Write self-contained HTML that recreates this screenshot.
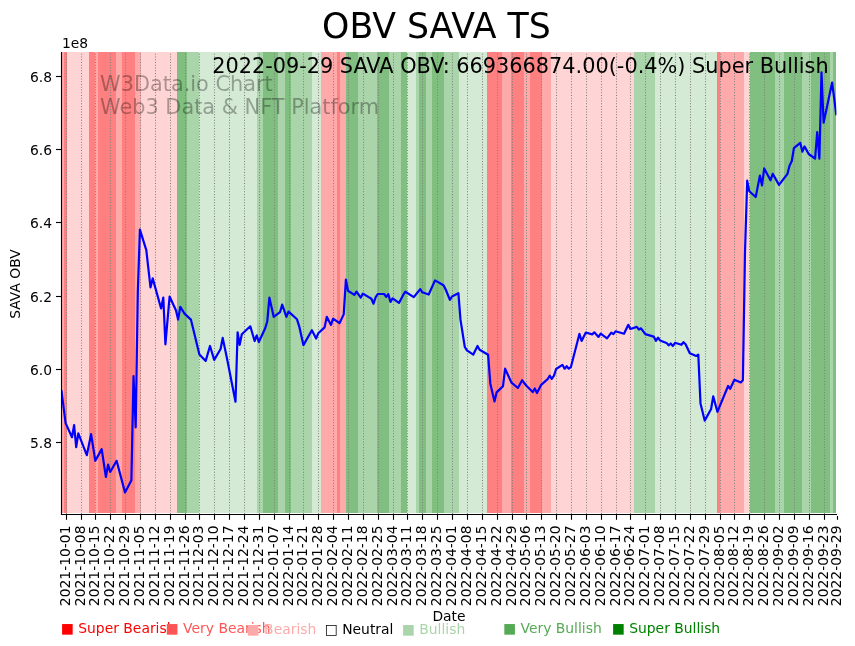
<!DOCTYPE html>
<html lang="en"><head><meta charset="utf-8"><title>OBV SAVA TS</title>
<style>html,body{margin:0;padding:0;background:#fff}svg{display:block}text{font-family:"DejaVu Sans","Liberation Sans",sans-serif}</style></head><body>
<svg width="855" height="646" viewBox="0 0 855 646">
<rect width="855" height="646" fill="#fff"/>
<g shape-rendering="crispEdges">
<rect x="61" y="52" width="3" height="461" fill="#ffaaaa"/>
<rect x="64" y="52" width="3" height="461" fill="#ff8080"/>
<rect x="67" y="52" width="22" height="461" fill="#ffd4d4"/>
<rect x="89" y="52" width="6" height="461" fill="#ff8080"/>
<rect x="95" y="52" width="3" height="461" fill="#ffaaaa"/>
<rect x="98" y="52" width="18" height="461" fill="#ff8080"/>
<rect x="116" y="52" width="6" height="461" fill="#ffaaaa"/>
<rect x="122" y="52" width="13" height="461" fill="#ff8080"/>
<rect x="135" y="52" width="6" height="461" fill="#ffaaaa"/>
<rect x="141" y="52" width="36" height="461" fill="#ffd4d4"/>
<rect x="177" y="52" width="10" height="461" fill="#80bf80"/>
<rect x="187" y="52" width="12" height="461" fill="#aad4aa"/>
<rect x="199" y="52" width="58" height="461" fill="#d4ead4"/>
<rect x="257" y="52" width="6" height="461" fill="#aad4aa"/>
<rect x="263" y="52" width="15" height="461" fill="#80bf80"/>
<rect x="278" y="52" width="7" height="461" fill="#aad4aa"/>
<rect x="285" y="52" width="6" height="461" fill="#80bf80"/>
<rect x="291" y="52" width="21" height="461" fill="#aad4aa"/>
<rect x="312" y="52" width="9" height="461" fill="#d4ead4"/>
<rect x="321" y="52" width="16" height="461" fill="#ffaaaa"/>
<rect x="337" y="52" width="3" height="461" fill="#ff8080"/>
<rect x="340" y="52" width="6" height="461" fill="#ffaaaa"/>
<rect x="346" y="52" width="12" height="461" fill="#80bf80"/>
<rect x="358" y="52" width="19" height="461" fill="#aad4aa"/>
<rect x="377" y="52" width="12" height="461" fill="#80bf80"/>
<rect x="389" y="52" width="12" height="461" fill="#aad4aa"/>
<rect x="401" y="52" width="6" height="461" fill="#80bf80"/>
<rect x="407" y="52" width="9" height="461" fill="#d4ead4"/>
<rect x="416" y="52" width="3" height="461" fill="#aad4aa"/>
<rect x="419" y="52" width="7" height="461" fill="#80bf80"/>
<rect x="426" y="52" width="6" height="461" fill="#aad4aa"/>
<rect x="432" y="52" width="12" height="461" fill="#80bf80"/>
<rect x="444" y="52" width="15" height="461" fill="#aad4aa"/>
<rect x="459" y="52" width="28" height="461" fill="#d4ead4"/>
<rect x="487" y="52" width="15" height="461" fill="#ff8080"/>
<rect x="502" y="52" width="9" height="461" fill="#ffaaaa"/>
<rect x="511" y="52" width="13" height="461" fill="#ff8080"/>
<rect x="524" y="52" width="6" height="461" fill="#ffaaaa"/>
<rect x="530" y="52" width="12" height="461" fill="#ff8080"/>
<rect x="542" y="52" width="9" height="461" fill="#ffaaaa"/>
<rect x="551" y="52" width="83" height="461" fill="#ffd4d4"/>
<rect x="634" y="52" width="21" height="461" fill="#aad4aa"/>
<rect x="655" y="52" width="62" height="461" fill="#d4ead4"/>
<rect x="717" y="52" width="3" height="461" fill="#ff8080"/>
<rect x="720" y="52" width="24" height="461" fill="#ffaaaa"/>
<rect x="744" y="52" width="6" height="461" fill="#ffd4d4"/>
<rect x="750" y="52" width="25" height="461" fill="#80bf80"/>
<rect x="775" y="52" width="9" height="461" fill="#aad4aa"/>
<rect x="784" y="52" width="18" height="461" fill="#80bf80"/>
<rect x="802" y="52" width="9" height="461" fill="#aad4aa"/>
<rect x="811" y="52" width="19" height="461" fill="#80bf80"/>
<rect x="830" y="52" width="3" height="461" fill="#aad4aa"/>
<rect x="833" y="52" width="3" height="461" fill="#80bf80"/>
</g>
<g stroke="#808080" stroke-width="1.04" stroke-dasharray="1.04 1.71" fill="none">
<line x1="66.5" y1="514.02" x2="66.5" y2="52"/>
<line x1="81.5" y1="514.02" x2="81.5" y2="52"/>
<line x1="95.5" y1="514.02" x2="95.5" y2="52"/>
<line x1="110.5" y1="514.02" x2="110.5" y2="52"/>
<line x1="125.5" y1="514.02" x2="125.5" y2="52"/>
<line x1="140.5" y1="514.02" x2="140.5" y2="52"/>
<line x1="155.5" y1="514.02" x2="155.5" y2="52"/>
<line x1="170.5" y1="514.02" x2="170.5" y2="52"/>
<line x1="185.5" y1="514.02" x2="185.5" y2="52"/>
<line x1="199.5" y1="514.02" x2="199.5" y2="52"/>
<line x1="214.5" y1="514.02" x2="214.5" y2="52"/>
<line x1="229.5" y1="514.02" x2="229.5" y2="52"/>
<line x1="244.5" y1="514.02" x2="244.5" y2="52"/>
<line x1="259.5" y1="514.02" x2="259.5" y2="52"/>
<line x1="274.5" y1="514.02" x2="274.5" y2="52"/>
<line x1="289.5" y1="514.02" x2="289.5" y2="52"/>
<line x1="303.5" y1="514.02" x2="303.5" y2="52"/>
<line x1="318.5" y1="514.02" x2="318.5" y2="52"/>
<line x1="333.5" y1="514.02" x2="333.5" y2="52"/>
<line x1="348.5" y1="514.02" x2="348.5" y2="52"/>
<line x1="363.5" y1="514.02" x2="363.5" y2="52"/>
<line x1="378.5" y1="514.02" x2="378.5" y2="52"/>
<line x1="393.5" y1="514.02" x2="393.5" y2="52"/>
<line x1="407.5" y1="514.02" x2="407.5" y2="52"/>
<line x1="422.5" y1="514.02" x2="422.5" y2="52"/>
<line x1="437.5" y1="514.02" x2="437.5" y2="52"/>
<line x1="452.5" y1="514.02" x2="452.5" y2="52"/>
<line x1="467.5" y1="514.02" x2="467.5" y2="52"/>
<line x1="482.5" y1="514.02" x2="482.5" y2="52"/>
<line x1="497.5" y1="514.02" x2="497.5" y2="52"/>
<line x1="512.5" y1="514.02" x2="512.5" y2="52"/>
<line x1="526.5" y1="514.02" x2="526.5" y2="52"/>
<line x1="541.5" y1="514.02" x2="541.5" y2="52"/>
<line x1="556.5" y1="514.02" x2="556.5" y2="52"/>
<line x1="571.5" y1="514.02" x2="571.5" y2="52"/>
<line x1="586.5" y1="514.02" x2="586.5" y2="52"/>
<line x1="601.5" y1="514.02" x2="601.5" y2="52"/>
<line x1="616.5" y1="514.02" x2="616.5" y2="52"/>
<line x1="630.5" y1="514.02" x2="630.5" y2="52"/>
<line x1="645.5" y1="514.02" x2="645.5" y2="52"/>
<line x1="660.5" y1="514.02" x2="660.5" y2="52"/>
<line x1="675.5" y1="514.02" x2="675.5" y2="52"/>
<line x1="690.5" y1="514.02" x2="690.5" y2="52"/>
<line x1="705.5" y1="514.02" x2="705.5" y2="52"/>
<line x1="720.5" y1="514.02" x2="720.5" y2="52"/>
<line x1="734.5" y1="514.02" x2="734.5" y2="52"/>
<line x1="749.5" y1="514.02" x2="749.5" y2="52"/>
<line x1="764.5" y1="514.02" x2="764.5" y2="52"/>
<line x1="779.5" y1="514.02" x2="779.5" y2="52"/>
<line x1="794.5" y1="514.02" x2="794.5" y2="52"/>
<line x1="809.5" y1="514.02" x2="809.5" y2="52"/>
<line x1="824.5" y1="514.02" x2="824.5" y2="52"/>
</g>
<clipPath id="axclip"><rect x="61.4" y="52" width="775" height="462"/></clipPath>
<polyline clip-path="url(#axclip)" points="61.4,390.2 65.6,423.1 72.0,437.2 74.1,425.1 76.2,447.2 78.3,433.3 86.8,455.2 91.1,434.2 95.3,460.8 101.7,449.1 105.9,477.0 108.1,464.5 110.2,472.0 116.6,460.8 125.0,492.4 131.4,480.3 133.5,376.1 135.7,427.4 137.8,292.0 139.9,229.7 146.3,250.2 150.5,287.4 152.7,278.4 161.1,308.5 163.3,297.5 165.4,344.3 169.6,296.5 176.0,310.5 178.1,319.6 180.3,306.9 184.5,313.6 190.9,319.6 199.4,354.4 205.7,360.9 210.0,346.0 214.2,359.9 220.6,349.0 222.7,337.9 227.0,358.5 235.5,401.7 237.6,332.3 239.7,344.8 241.8,334.3 250.3,326.3 254.6,341.0 256.7,335.3 258.8,342.0 265.2,328.3 267.3,321.2 269.4,297.7 273.7,316.8 280.0,312.2 282.2,304.5 286.4,316.8 288.5,311.6 297.0,319.3 299.2,326.3 303.4,345.1 311.9,330.2 316.1,338.5 318.3,333.2 324.6,327.4 326.8,316.8 331.0,324.9 333.1,318.6 339.5,323.2 343.7,314.4 345.9,279.6 348.0,290.8 354.4,294.9 356.5,291.7 360.7,297.7 362.9,293.6 371.4,298.8 373.5,303.7 375.6,297.3 377.7,294.0 384.1,294.0 386.2,296.8 388.3,294.2 390.5,301.9 392.6,298.4 399.0,302.9 403.2,294.9 405.3,291.7 413.8,297.1 420.2,289.1 422.3,292.3 428.7,294.5 435.0,280.4 443.5,285.2 445.7,289.5 449.9,299.9 452.0,296.5 458.4,293.2 460.5,319.9 464.8,347.0 466.9,350.3 473.3,354.6 477.5,345.9 479.6,349.8 488.1,354.8 490.3,383.4 494.5,401.5 496.6,392.4 503.0,386.2 505.1,368.7 511.5,382.7 517.9,388.0 522.1,380.2 526.4,385.7 532.7,392.1 534.8,388.5 537.0,393.1 541.2,384.8 547.6,379.2 549.7,375.7 551.8,378.8 554.0,375.7 556.1,369.0 562.4,364.8 564.6,368.7 566.7,366.2 568.8,368.7 570.9,367.1 579.4,333.9 581.6,340.9 585.8,332.5 592.2,334.4 594.3,332.3 598.5,336.9 600.7,333.7 607.0,338.3 611.3,332.7 613.4,334.1 615.5,331.3 624.0,333.7 628.3,324.8 630.4,329.0 636.8,326.9 638.9,329.5 641.0,328.3 645.3,334.1 653.7,336.6 655.9,340.8 658.0,337.6 660.1,340.4 666.5,342.9 668.6,345.3 670.7,343.5 672.9,346.0 675.0,342.8 681.4,344.8 683.5,342.2 685.6,344.3 689.8,353.2 696.2,356.0 698.3,354.6 700.5,403.4 704.7,420.6 711.1,409.0 713.2,396.4 717.4,411.8 728.1,386.0 730.2,388.8 734.4,379.7 740.8,382.5 742.9,380.1 745.0,252.0 747.2,180.7 749.3,191.2 755.7,197.0 759.9,175.6 762.0,185.4 764.2,168.4 770.5,180.3 772.7,173.8 779.0,184.9 787.5,173.8 789.6,165.6 791.8,161.0 793.9,148.2 800.3,142.9 802.4,151.7 804.5,146.4 808.7,154.0 815.1,158.7 817.2,132.0 819.4,158.7 821.5,72.3 823.6,122.7 832.1,82.5 836.4,115.3" fill="none" stroke="#0000ff" stroke-width="2.2" stroke-linejoin="round" stroke-linecap="butt"/>
<g stroke="#000" stroke-width="1.11" fill="none"><line x1="61.5" y1="51.95" x2="61.5" y2="515.05"/><line x1="60.95" y1="514.5" x2="837.05" y2="514.5"/>
<line x1="66.5" y1="514.5" x2="66.5" y2="519.8"/>
<line x1="81.5" y1="514.5" x2="81.5" y2="519.8"/>
<line x1="95.5" y1="514.5" x2="95.5" y2="519.8"/>
<line x1="110.5" y1="514.5" x2="110.5" y2="519.8"/>
<line x1="125.5" y1="514.5" x2="125.5" y2="519.8"/>
<line x1="140.5" y1="514.5" x2="140.5" y2="519.8"/>
<line x1="155.5" y1="514.5" x2="155.5" y2="519.8"/>
<line x1="170.5" y1="514.5" x2="170.5" y2="519.8"/>
<line x1="185.5" y1="514.5" x2="185.5" y2="519.8"/>
<line x1="199.5" y1="514.5" x2="199.5" y2="519.8"/>
<line x1="214.5" y1="514.5" x2="214.5" y2="519.8"/>
<line x1="229.5" y1="514.5" x2="229.5" y2="519.8"/>
<line x1="244.5" y1="514.5" x2="244.5" y2="519.8"/>
<line x1="259.5" y1="514.5" x2="259.5" y2="519.8"/>
<line x1="274.5" y1="514.5" x2="274.5" y2="519.8"/>
<line x1="289.5" y1="514.5" x2="289.5" y2="519.8"/>
<line x1="303.5" y1="514.5" x2="303.5" y2="519.8"/>
<line x1="318.5" y1="514.5" x2="318.5" y2="519.8"/>
<line x1="333.5" y1="514.5" x2="333.5" y2="519.8"/>
<line x1="348.5" y1="514.5" x2="348.5" y2="519.8"/>
<line x1="363.5" y1="514.5" x2="363.5" y2="519.8"/>
<line x1="378.5" y1="514.5" x2="378.5" y2="519.8"/>
<line x1="393.5" y1="514.5" x2="393.5" y2="519.8"/>
<line x1="407.5" y1="514.5" x2="407.5" y2="519.8"/>
<line x1="422.5" y1="514.5" x2="422.5" y2="519.8"/>
<line x1="437.5" y1="514.5" x2="437.5" y2="519.8"/>
<line x1="452.5" y1="514.5" x2="452.5" y2="519.8"/>
<line x1="467.5" y1="514.5" x2="467.5" y2="519.8"/>
<line x1="482.5" y1="514.5" x2="482.5" y2="519.8"/>
<line x1="497.5" y1="514.5" x2="497.5" y2="519.8"/>
<line x1="512.5" y1="514.5" x2="512.5" y2="519.8"/>
<line x1="526.5" y1="514.5" x2="526.5" y2="519.8"/>
<line x1="541.5" y1="514.5" x2="541.5" y2="519.8"/>
<line x1="556.5" y1="514.5" x2="556.5" y2="519.8"/>
<line x1="571.5" y1="514.5" x2="571.5" y2="519.8"/>
<line x1="586.5" y1="514.5" x2="586.5" y2="519.8"/>
<line x1="601.5" y1="514.5" x2="601.5" y2="519.8"/>
<line x1="616.5" y1="514.5" x2="616.5" y2="519.8"/>
<line x1="630.5" y1="514.5" x2="630.5" y2="519.8"/>
<line x1="645.5" y1="514.5" x2="645.5" y2="519.8"/>
<line x1="660.5" y1="514.5" x2="660.5" y2="519.8"/>
<line x1="675.5" y1="514.5" x2="675.5" y2="519.8"/>
<line x1="690.5" y1="514.5" x2="690.5" y2="519.8"/>
<line x1="705.5" y1="514.5" x2="705.5" y2="519.8"/>
<line x1="720.5" y1="514.5" x2="720.5" y2="519.8"/>
<line x1="734.5" y1="514.5" x2="734.5" y2="519.8"/>
<line x1="749.5" y1="514.5" x2="749.5" y2="519.8"/>
<line x1="764.5" y1="514.5" x2="764.5" y2="519.8"/>
<line x1="779.5" y1="514.5" x2="779.5" y2="519.8"/>
<line x1="794.5" y1="514.5" x2="794.5" y2="519.8"/>
<line x1="809.5" y1="514.5" x2="809.5" y2="519.8"/>
<line x1="824.5" y1="514.5" x2="824.5" y2="519.8"/>
<line x1="837.5" y1="516" x2="837.5" y2="519.8"/>
<line x1="61.5" y1="76.5" x2="56" y2="76.5"/>
<line x1="61.5" y1="149.5" x2="56" y2="149.5"/>
<line x1="61.5" y1="222.5" x2="56" y2="222.5"/>
<line x1="61.5" y1="296.5" x2="56" y2="296.5"/>
<line x1="61.5" y1="369.5" x2="56" y2="369.5"/>
<line x1="61.5" y1="442.5" x2="56" y2="442.5"/>
</g>
<g font-size="13.89" fill="#000">
<text x="52" y="82.0" text-anchor="end">6.8</text>
<text x="52" y="155.0" text-anchor="end">6.6</text>
<text x="52" y="228.0" text-anchor="end">6.4</text>
<text x="52" y="302.0" text-anchor="end">6.2</text>
<text x="52" y="375.0" text-anchor="end">6.0</text>
<text x="52" y="448.0" text-anchor="end">5.8</text>
<text x="62" y="47.7">1e8</text>
<text transform="translate(70.1,525.5) rotate(-90)" text-anchor="end">2021-10-01</text>
<text transform="translate(85.1,525.5) rotate(-90)" text-anchor="end">2021-10-08</text>
<text transform="translate(99.1,525.5) rotate(-90)" text-anchor="end">2021-10-15</text>
<text transform="translate(114.1,525.5) rotate(-90)" text-anchor="end">2021-10-22</text>
<text transform="translate(129.1,525.5) rotate(-90)" text-anchor="end">2021-10-29</text>
<text transform="translate(144.1,525.5) rotate(-90)" text-anchor="end">2021-11-05</text>
<text transform="translate(159.1,525.5) rotate(-90)" text-anchor="end">2021-11-12</text>
<text transform="translate(174.1,525.5) rotate(-90)" text-anchor="end">2021-11-19</text>
<text transform="translate(189.1,525.5) rotate(-90)" text-anchor="end">2021-11-26</text>
<text transform="translate(203.1,525.5) rotate(-90)" text-anchor="end">2021-12-03</text>
<text transform="translate(218.1,525.5) rotate(-90)" text-anchor="end">2021-12-10</text>
<text transform="translate(233.1,525.5) rotate(-90)" text-anchor="end">2021-12-17</text>
<text transform="translate(248.1,525.5) rotate(-90)" text-anchor="end">2021-12-24</text>
<text transform="translate(263.1,525.5) rotate(-90)" text-anchor="end">2021-12-31</text>
<text transform="translate(278.1,525.5) rotate(-90)" text-anchor="end">2022-01-07</text>
<text transform="translate(293.1,525.5) rotate(-90)" text-anchor="end">2022-01-14</text>
<text transform="translate(307.1,525.5) rotate(-90)" text-anchor="end">2022-01-21</text>
<text transform="translate(322.1,525.5) rotate(-90)" text-anchor="end">2022-01-28</text>
<text transform="translate(337.1,525.5) rotate(-90)" text-anchor="end">2022-02-04</text>
<text transform="translate(352.1,525.5) rotate(-90)" text-anchor="end">2022-02-11</text>
<text transform="translate(367.1,525.5) rotate(-90)" text-anchor="end">2022-02-18</text>
<text transform="translate(382.1,525.5) rotate(-90)" text-anchor="end">2022-02-25</text>
<text transform="translate(397.1,525.5) rotate(-90)" text-anchor="end">2022-03-04</text>
<text transform="translate(411.1,525.5) rotate(-90)" text-anchor="end">2022-03-11</text>
<text transform="translate(426.1,525.5) rotate(-90)" text-anchor="end">2022-03-18</text>
<text transform="translate(441.1,525.5) rotate(-90)" text-anchor="end">2022-03-25</text>
<text transform="translate(456.1,525.5) rotate(-90)" text-anchor="end">2022-04-01</text>
<text transform="translate(471.1,525.5) rotate(-90)" text-anchor="end">2022-04-08</text>
<text transform="translate(486.1,525.5) rotate(-90)" text-anchor="end">2022-04-15</text>
<text transform="translate(501.1,525.5) rotate(-90)" text-anchor="end">2022-04-22</text>
<text transform="translate(516.1,525.5) rotate(-90)" text-anchor="end">2022-04-29</text>
<text transform="translate(530.1,525.5) rotate(-90)" text-anchor="end">2022-05-06</text>
<text transform="translate(545.1,525.5) rotate(-90)" text-anchor="end">2022-05-13</text>
<text transform="translate(560.1,525.5) rotate(-90)" text-anchor="end">2022-05-20</text>
<text transform="translate(575.1,525.5) rotate(-90)" text-anchor="end">2022-05-27</text>
<text transform="translate(590.1,525.5) rotate(-90)" text-anchor="end">2022-06-03</text>
<text transform="translate(605.1,525.5) rotate(-90)" text-anchor="end">2022-06-10</text>
<text transform="translate(620.1,525.5) rotate(-90)" text-anchor="end">2022-06-17</text>
<text transform="translate(634.1,525.5) rotate(-90)" text-anchor="end">2022-06-24</text>
<text transform="translate(649.1,525.5) rotate(-90)" text-anchor="end">2022-07-01</text>
<text transform="translate(664.1,525.5) rotate(-90)" text-anchor="end">2022-07-08</text>
<text transform="translate(679.1,525.5) rotate(-90)" text-anchor="end">2022-07-15</text>
<text transform="translate(694.1,525.5) rotate(-90)" text-anchor="end">2022-07-22</text>
<text transform="translate(709.1,525.5) rotate(-90)" text-anchor="end">2022-07-29</text>
<text transform="translate(724.1,525.5) rotate(-90)" text-anchor="end">2022-08-05</text>
<text transform="translate(738.1,525.5) rotate(-90)" text-anchor="end">2022-08-12</text>
<text transform="translate(753.1,525.5) rotate(-90)" text-anchor="end">2022-08-19</text>
<text transform="translate(768.1,525.5) rotate(-90)" text-anchor="end">2022-08-26</text>
<text transform="translate(783.1,525.5) rotate(-90)" text-anchor="end">2022-09-02</text>
<text transform="translate(798.1,525.5) rotate(-90)" text-anchor="end">2022-09-09</text>
<text transform="translate(813.1,525.5) rotate(-90)" text-anchor="end">2022-09-16</text>
<text transform="translate(828.1,525.5) rotate(-90)" text-anchor="end">2022-09-23</text>
<text transform="translate(841.1,525.5) rotate(-90)" text-anchor="end">2022-09-29</text>
<text x="449" y="620.6" text-anchor="middle">Date</text>
<text transform="translate(19.5,284) rotate(-90)" text-anchor="middle">SAVA OBV</text>
</g>
<text x="436.4" y="37.6" font-size="34.72" text-anchor="middle" fill="#000">OBV SAVA TS</text>
<text x="828.6" y="73" font-size="20.83" text-anchor="end" fill="#000">2022-09-29 SAVA OBV: 669366874.00(-0.4%) Super Bullish</text>
<g font-size="20.83" fill="#000" fill-opacity="0.32"><text x="100.1" y="91.3">W3Data.io Chart</text><text x="100.1" y="114.3">Web3 Data &amp; NFT Platform</text></g>
<g font-size="13.89">
<text x="60.75" y="632.7" fill="#ff0000">■ Super Bearish</text>
<text x="165.6" y="632.7" fill="#ff5555">■ Very Bearish</text>
<text x="246.6" y="633.7" fill="#ffaaaa">■ Bearish</text>
<text x="324.7" y="633.7" fill="#000000">□ Neutral</text>
<text x="401.75" y="633.7" fill="#aad4aa">■ Bullish</text>
<text x="503" y="632.7" fill="#55aa55">■ Very Bullish</text>
<text x="611.7" y="632.7" fill="#008000">■ Super Bullish</text>
</g>
</svg></body></html>
